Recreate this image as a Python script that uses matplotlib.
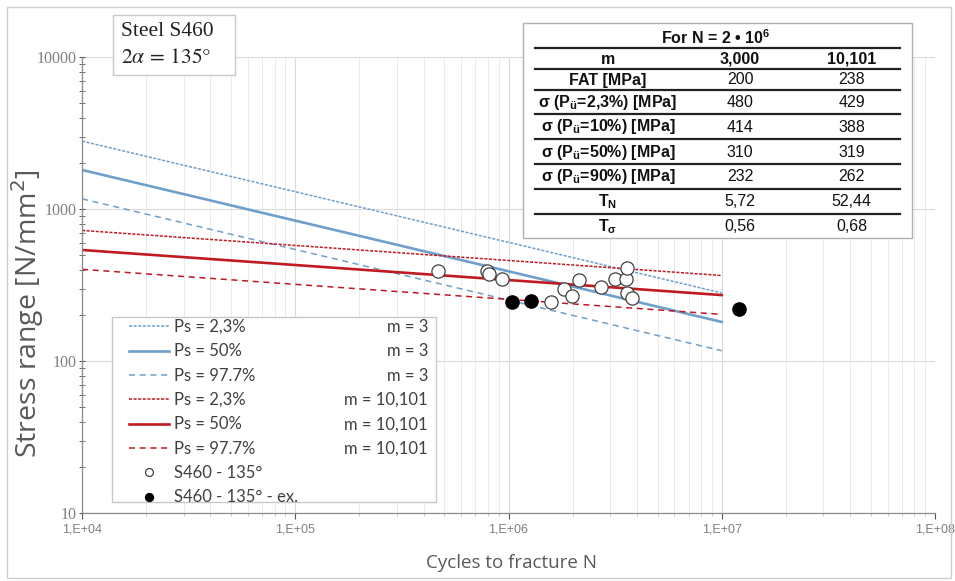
import math
import matplotlib
matplotlib.use('Agg')
import matplotlib.pyplot as plt
import matplotlib.ticker as mticker
from matplotlib.patches import Rectangle
from matplotlib.lines import Line2D

plt.rcParams['mathtext.fontset'] = 'custom'
plt.rcParams['mathtext.rm'] = 'Liberation Sans'
plt.rcParams['mathtext.bf'] = 'Liberation Sans:bold'
plt.rcParams['mathtext.it'] = 'Liberation Sans:italic'

# S-N lines, stress at N = 1e4 and N = 1e7
line_n = [1e4, 1e7]
m3_ps023 = [2807, 281]
m3_ps50 = [1813, 181]
m3_ps977 = [1170, 117]
m10_ps023 = [725, 366]
m10_ps50 = [539, 272]
m10_ps977 = [402, 203]

# test results S460, 2alpha = 135 deg
n_open = [4.69e5, 7.91e5, 8.13e5, 9.36e5, 1.58e6, 1.82e6, 1.99e6, 2.13e6,
          2.72e6, 3.16e6, 3.55e6, 3.59e6, 3.59e6, 3.81e6]
s_open = [392, 392, 373, 345, 245, 297, 269, 340, 309, 345, 345, 408, 282, 259]
n_runout = [1.04e6, 1.28e6, 1.21e7]
s_runout = [244, 248, 219]

# table for N = 2e6
tab_rows = ['FAT [MPa]',
            r'σ (P$_{\mathbf{ü}}$=2,3%) [MPa]',
            r'σ (P$_{\mathbf{ü}}$=10%) [MPa]',
            r'σ (P$_{\mathbf{ü}}$=50%) [MPa]',
            r'σ (P$_{\mathbf{ü}}$=90%) [MPa]',
            r'T$_{\mathbf{N}}$',
            r'T$_{\mathbf{σ}}$']
tab_m3 = ['200', '480', '414', '310', '232', '5,72', '0,56']
tab_m10 = ['238', '429', '388', '319', '262', '52,44', '0,68']

m_labels = ['m = 3', 'm = 3', 'm = 3', 'm = 10,101', 'm = 10,101', 'm = 10,101']

blue = '#6f9fcb'
red = '#c01a22'
grey_txt = '#595959'

W, H = 955, 581
fig = plt.figure(figsize=(9.55, 5.81), dpi=100)


def fx(px):
    return px / W


def fy(py):
    return 1 - py / H


def fig_box(x0, y0, x1, y1):
    # rectangle given in pixel corners (top-left origin)
    return (fx(x0), fy(y1)), fx(x1) - fx(x0), fy(y0) - fy(y1)


xy, w, h = fig_box(7, 7, 951, 578)
fig.add_artist(Rectangle(xy, w, h, transform=fig.transFigure, fill=False,
                         edgecolor='#cfcfcf', lw=1))

ax = fig.add_axes([fx(82), fy(513), fx(935) - fx(82), fy(57.3) - fy(513)])
ax.set_xscale('log')
ax.set_yscale('log')
ax.set_xlim(1e4, 1e8)
ax.set_ylim(10, 1e4)

ax.plot(line_n, m3_ps023, color=blue, lw=1.1, ls=(0, (2, 1)), label='Ps = 2,3%')
ax.plot(line_n, m3_ps50, color=blue, lw=1.9, label='Ps = 50%')
ax.plot(line_n, m3_ps977, color=blue, lw=1.1, ls=(0, (4, 3)), label='Ps = 97.7%')
ax.plot(line_n, m10_ps023, color=red, lw=1.1, ls=(0, (2, 1)), label='Ps = 2,3%')
ax.plot(line_n, m10_ps50, color=red, lw=1.9, label='Ps = 50%')
ax.plot(line_n, m10_ps977, color=red, lw=1.1, ls=(0, (4, 3)), label='Ps = 97.7%')
ax.plot(n_open, s_open, ls='none', marker='o', ms=9.5, mfc='white',
        mec='#404040', mew=0.9, label='S460 - 135°', zorder=5)
ax.plot(n_runout, s_runout, ls='none', marker='o', ms=9.5, mfc='black',
        mec='black', label='S460 - 135° - ex.', zorder=5)

for s in ['top', 'right']:
    ax.spines[s].set_visible(False)
for s in ['left', 'bottom']:
    ax.spines[s].set_color('#8c8c8c')
    ax.spines[s].set_linewidth(0.9)

ax.grid(which='major', color='#dadada', lw=0.8)
ax.grid(which='minor', axis='x', color='#ececec', lw=0.7)
ax.set_axisbelow(True)

ax.xaxis.set_major_formatter(mticker.FuncFormatter(
    lambda v, p: '1,E+%02d' % round(math.log10(v))))
ax.yaxis.set_major_formatter(mticker.FuncFormatter(lambda v, p: '%d' % v))
ax.xaxis.set_minor_formatter(mticker.NullFormatter())
ax.yaxis.set_minor_formatter(mticker.NullFormatter())
ax.tick_params(which='major', length=4, color='#555555', labelcolor='#7f7f7f')
ax.tick_params(which='minor', length=2.5, color='#555555')
ax.tick_params(axis='y', which='minor', direction='inout', length=4)
ax.tick_params(axis='y', which='major', direction='inout', length=5, pad=1)
ax.tick_params(axis='x', which='minor', color='#bbbbbb')
for t in ax.get_yticklabels():
    t.set_family('Liberation Serif')
    t.set_fontsize(11.5)
for t in ax.get_xticklabels():
    t.set_family(['Liberation Sans Narrow', 'Liberation Sans'])
    t.set_fontsize(9)

ax.set_xlabel('Cycles to fracture N', family='Open Sans', fontsize=13.5,
              color=grey_txt, va='center')
ax.xaxis.set_label_coords((511 - 82) / 853, (513 - 563) / 455.7)
ax.set_ylabel('Stress range [N/mm$^2$]', family='Open Sans', fontsize=20.5,
              color=grey_txt, va='center')
ax.yaxis.label.set_math_fontfamily('dejavusans')
ax.yaxis.set_label_coords((28 - 82) / 853, (513 - 314) / 455.7)

# material box
xy, w, h = fig_box(113, 15, 235, 75)
fig.add_artist(Rectangle(xy, w, h, transform=fig.transFigure, facecolor='white',
                         edgecolor='#c8c8c8', lw=1, zorder=3))
fig.text(fx(121), fy(31), 'Steel S460', family='Liberation Serif', fontsize=15.5,
         va='center', color='#222222', zorder=4)
fig.text(fx(121), fy(57), r'$2\alpha\,=\,135\degree$', fontsize=15.5, va='center',
         color='#222222', math_fontfamily='stix', zorder=4)

# legend with its own frame
xy, w, h = fig_box(111.7, 316.7, 436, 501.7)
ax.add_patch(Rectangle(xy, w, h, transform=fig.transFigure, facecolor='white',
                       edgecolor='#c8c8c8', lw=1, zorder=6, clip_on=False))
leg = ax.legend(loc='upper left', bbox_to_anchor=(fx(129), fy(319)),
                bbox_transform=fig.transFigure, frameon=False, borderpad=0,
                borderaxespad=0, handlelength=2.4, handletextpad=0.3,
                labelspacing=0.5, markerscale=0.6,
                prop={'family': 'Lato', 'size': 12})
leg.set_zorder(7)
for t in leg.get_texts():
    t.set_color('#404040')

fig.canvas.draw()
for t, ml in zip(leg.get_texts(), m_labels):
    bb = t.get_window_extent()
    fig.text(fx(428), (bb.y0 + bb.y1) / 2 / H, ml, ha='right', va='center',
             family='Lato', fontsize=12, color='#404040', zorder=8)

# table
xy, w, h = fig_box(522.7, 23, 912, 238)
fig.add_artist(Rectangle(xy, w, h, transform=fig.transFigure, facecolor='white',
                         edgecolor='#b0b0b0', lw=1, zorder=3))
col_x = [fx(608), fx(740), fx(851.7)]
row_y = [80, 102.7, 127, 152.3, 176.7, 201.7, 226.7]
line_y = [47.7, 69, 90, 114.3, 139.3, 164.3, 189.3, 214]
tab_font = dict(family='Liberation Sans', fontsize=11.5, ha='center',
                va='center', color='#111111', zorder=5)
fig.text(fx(716), fy(38), r'For N = 2 • 10$^{\mathbf{6}}$', weight='bold',
         **tab_font)
fig.text(col_x[0], fy(59), 'm', weight='bold', **tab_font)
fig.text(col_x[1], fy(59), '3,000', weight='bold', **tab_font)
fig.text(col_x[2], fy(59), '10,101', weight='bold', **tab_font)
for y, lab, v3, v10 in zip(row_y, tab_rows, tab_m3, tab_m10):
    fig.text(col_x[0], fy(y), lab, weight='bold', **tab_font)
    fig.text(col_x[1], fy(y), v3, **tab_font)
    fig.text(col_x[2], fy(y), v10, **tab_font)
for y in line_y:
    fig.add_artist(Line2D([fx(535), fx(900)], [fy(y), fy(y)], color='#222222',
                          lw=1.6, transform=fig.transFigure, zorder=5))

fig.savefig('out.png', dpi=100)
